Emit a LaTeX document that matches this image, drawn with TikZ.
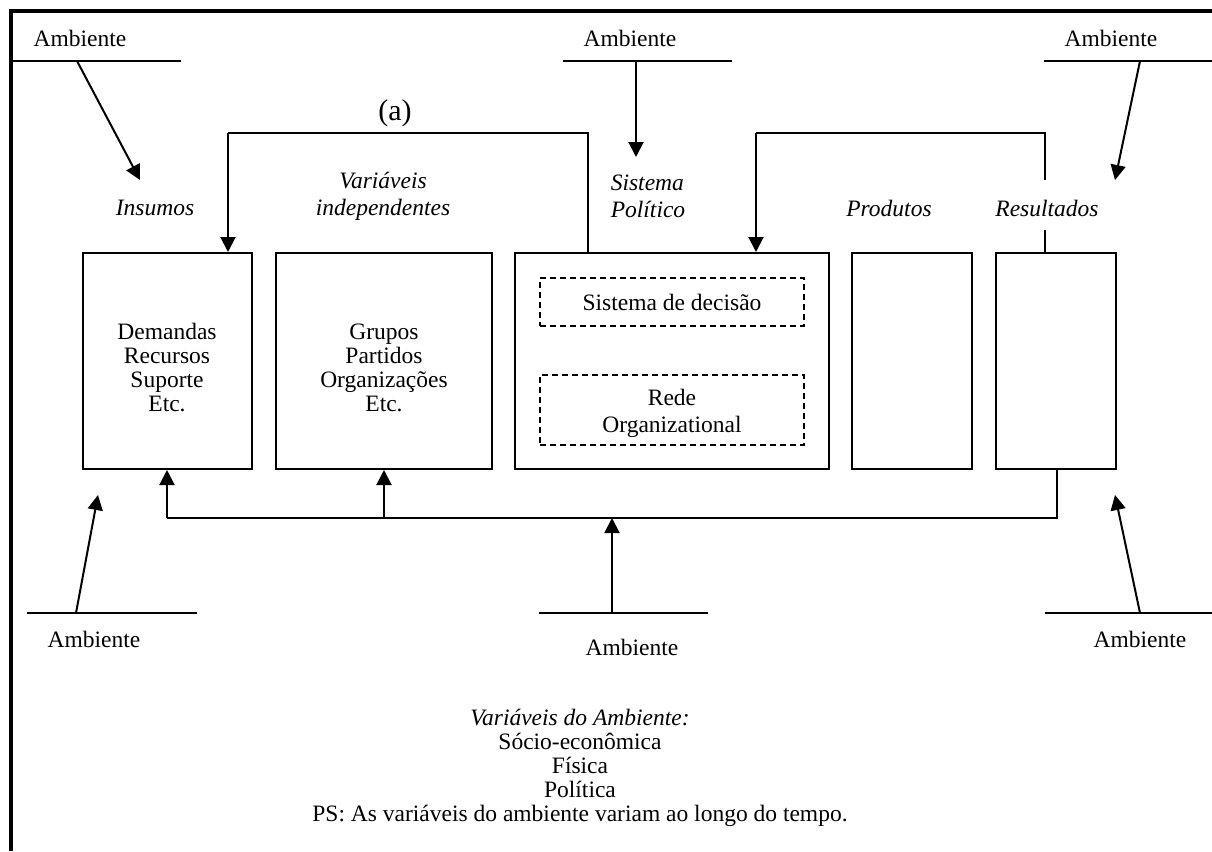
\documentclass[tikz,border=0pt]{standalone}
\usepackage{fontspec}
\setmainfont{Liberation Serif}
\usetikzlibrary{arrows.meta}
\tikzset{
  txt/.style={inner sep=0pt, font=\fontsize{23.5}{27}\selectfont, align=center},
  itxt/.style={txt, font=\fontsize{23.5}{27}\selectfont\itshape},
  boxtxt/.style={inner sep=0pt, font=\fontsize{23.5}{24}\selectfont, align=center},
  blk/.style={draw, line width=2pt, inner sep=0pt},
  dbox/.style={draw, line width=2pt, dash pattern=on 6pt off 4pt, inner sep=0pt},
  ln/.style={line width=2pt},
  arr/.style={line width=2pt, -{Triangle[length=15pt,width=15pt]}}
}
\begin{document}
\begin{tikzpicture}[x=1pt, y=-1pt]
\useasboundingbox (0,0) rectangle (1212,851);
% frame
\draw[line width=4pt] (10.5,851) -- (10.5,11.5) -- (1212,11.5);

% boxes
\node[blk, minimum width=169pt, minimum height=216pt] (b1) at (167.5,361) {};
\node[blk, minimum width=216pt, minimum height=216pt] (b2) at (384,361) {};
\node[blk, minimum width=314pt, minimum height=216pt] (b3) at (672,361) {};
\node[blk, minimum width=120pt, minimum height=216pt] (b4) at (912,361) {};
\node[blk, minimum width=120pt, minimum height=216pt] (b5) at (1056,361) {};

\node[dbox, minimum width=264pt, minimum height=48pt] (d1) at (672,302) {};
\node[dbox, minimum width=264pt, minimum height=70pt] (d2) at (672,410) {};
\node[txt] (d1t) at (672,302) {Sistema de decisão};
\node[txt] (d2t) at (672,413) {Rede\\Organizational};

\node[boxtxt] (b1t) at (167,368) {Demandas\\Recursos\\Suporte\\Etc.};
\node[boxtxt] (b2t) at (384,368) {Grupos\\Partidos\\Organizações\\Etc.};

% labels
\node[itxt] (lins) at (155,208) {Insumos};
\node[itxt] (lvar) at (383,196) {Variáveis\\independentes};
\node[itxt, align=left] (lsis) at (648,196) {Sistema\\Político};
\node[itxt] (lpro) at (889,208) {Produtos};
\node[itxt] (lres) at (1047,208) {Resultados};
\node[inner sep=0pt, font=\fontsize{30}{32}\selectfont] (la) at (395,113) {(a)};

% environment labels and lines
\node[txt] (amb1) at (80,38) {Ambiente};
\node[txt] (amb2) at (630,38) {Ambiente};
\node[txt] (amb3) at (1111,38) {Ambiente};
\node[txt] (amb4) at (94,639) {Ambiente};
\node[txt] (amb5) at (632,647) {Ambiente};
\node[txt] (amb6) at (1140,639) {Ambiente};

\draw[ln] (12,61) -- (181,61);
\draw[ln] (563,61) -- (732,61);
\draw[ln] (1044,61) -- (1212,61);
\draw[ln] (27,613) -- (197,613);
\draw[ln] (539,613) -- (708,613);
\draw[ln] (1045,613) -- (1212,613);

\coordinate (s1) at (77,61);
\coordinate (e1) at (140,180);
\coordinate (s2) at (636,61);
\coordinate (e2) at (636,157);
\coordinate (s3) at (1140,61);
\coordinate (e3) at (1115,180);
\coordinate (s4) at (76,613);
\coordinate (e4) at (98,495);
\coordinate (s5) at (612,613);
\coordinate (e5) at (612,518);
\coordinate (s6) at (1140,613);
\coordinate (e6) at (1115,495);

\draw[arr] (s1) -- (e1);
\draw[arr] (s2) -- (e2);
\draw[arr] (s3) -- (e3);
\draw[arr] (s4) -- (e4);
\draw[arr] (s5) -- (e5);
\draw[arr] (s6) -- (e6);

% bottom bus
\draw[ln] (b5.south -| 1057,0) -- (1057,518) -- (167,518);
\draw[arr] (167,518) -- (b1.south -| 167,0);
\draw[arr] (384,518) -- (b2.south -| 384,0);

% top feedback (a)
\draw[ln] (b3.north -| 588,0) -- (588,133) -- (228,133);
\draw[arr] (228,133) -- (b1.north -| 228,0);

% top feedback right
\draw[ln] (b5.north -| 1045,0) -- (1045,230);
\draw[ln] (1045,180) -- (1045,133) -- (756,133);
\draw[arr] (756,133) -- (b3.north -| 756,0);

% bottom text
\node[boxtxt] (env) at (580,768) {\textit{Variáveis do Ambiente:}\\Sócio-econômica\\Física\\Política\\PS: As variáveis do ambiente variam ao longo do tempo.};
\end{tikzpicture}
\end{document}
